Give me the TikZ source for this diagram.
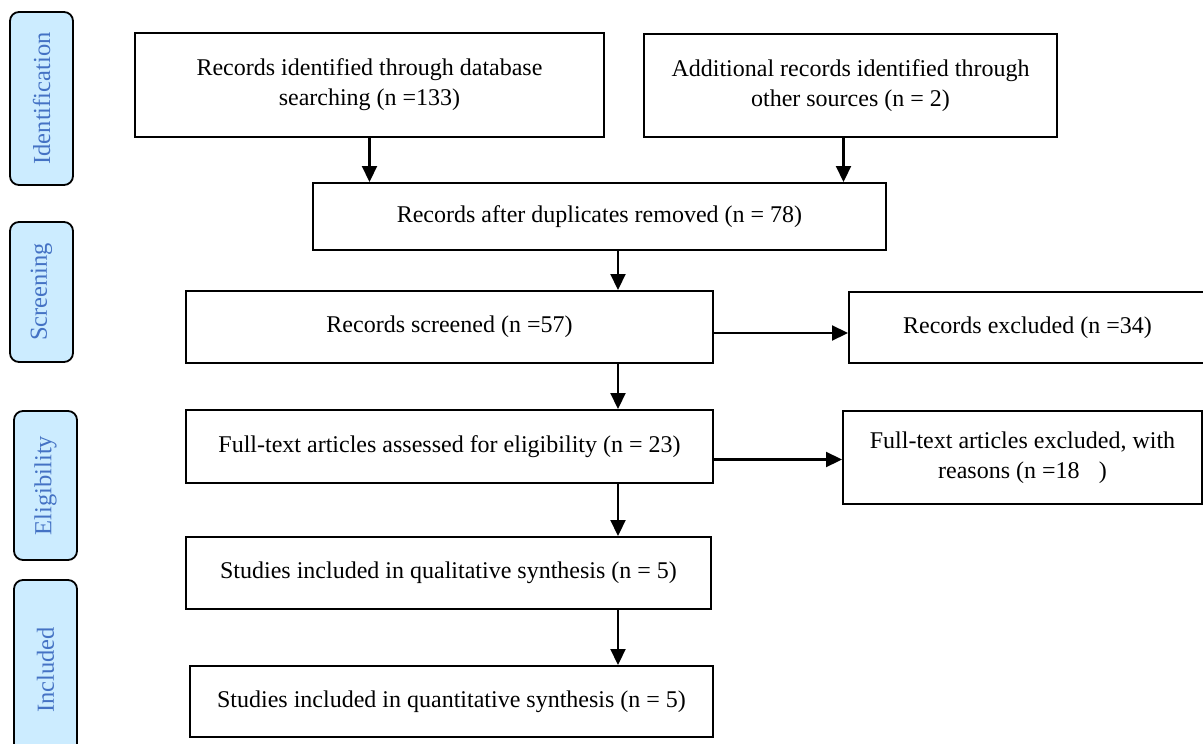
\documentclass[tikz,border=0pt]{standalone}
\usepackage{fontspec}
\setmainfont{Liberation Serif}
\usepackage{tikz}
\usetikzlibrary{arrows.meta,positioning,calc}
\definecolor{tabfill}{RGB}{204,236,255}
\definecolor{tabtext}{RGB}{68,114,196}
\tikzset{
	recbox/.style={rectangle, draw, line width=2pt, align=center, inner sep=0pt, font=\fontsize{24}{30}\selectfont},
	phase/.style={rectangle, rounded corners=9pt, draw, line width=1.8pt, fill=tabfill, text=tabtext, rotate=90, inner sep=0pt, font=\fontsize{24.5}{30}\selectfont},
	flow/.style={line width=2.2pt, -{Triangle[length=16pt,width=15pt]}}
}
\begin{document}
\begin{tikzpicture}[x=1pt, y=-1pt]
		\useasboundingbox (0,0) rectangle (1203,744);
		\node at (41.5,98.5) [phase, minimum width=173pt, minimum height=63pt] (ident) {Identification};
		\node at (41.5,292) [phase, minimum width=140pt, minimum height=63pt] (screen) {Screening};
		\node at (45.5,485.5) [phase, minimum width=149pt, minimum height=63pt] (elig) {Eligibility};
		\node at (45.5,670) [phase, minimum width=180pt, minimum height=63pt] (incl) {Included};
		\node at (369.5,85) [recbox, minimum width=469pt, minimum height=104pt] (db) {Records identified through database\\searching (n =133)};
		\node at (850.5,85.5) [recbox, minimum width=413pt, minimum height=103pt] (other) {Additional records identified through\\other sources (n = 2)};
		\node at (599.5,216.5) [recbox, minimum width=573pt, minimum height=67pt] (dup) {Records after duplicates removed (n = 78)};
		\node at (449.5,327) [recbox, minimum width=527pt, minimum height=72pt] (screened) {Records screened (n =57)};
		\node at (1027.5,327.5) [recbox, minimum width=357pt, minimum height=71pt] (excl) {Records excluded (n =34)};
		\node at (449.5,446.5) [recbox, minimum width=527pt, minimum height=73pt] (assessed) {Full-text articles assessed for eligibility (n = 23)};
		\node at (1022.5,457.5) [recbox, minimum width=359pt, minimum height=93pt] (ftexcl) {Full-text articles excluded, with\\reasons (n =18\hspace{0.8em})};
		\node at (448.5,573) [recbox, minimum width=525pt, minimum height=72pt] (qual) {Studies included in qualitative synthesis (n = 5)};
		\node at (451.5,701.5) [recbox, minimum width=523pt, minimum height=71pt] (quant) {Studies included in quantitative synthesis (n = 5)};
		\coordinate (axis) at (618,0);
		\draw[flow] (db.south) -- (db.south |- dup.north);
		\draw[flow] ([xshift=-7pt]other.south) -- ([xshift=-7pt]other.south |- dup.north);
		\draw[flow] (dup.south -| axis) -- (screened.north -| axis);
		\draw[flow] ([yshift=-6pt]screened.east) -- ([yshift=-6pt]screened.east -| excl.west);
		\draw[flow] (screened.south -| axis) -- (assessed.north -| axis);
		\draw[flow] ([yshift=-13pt]assessed.east) -- ([yshift=-13pt]assessed.east -| ftexcl.west);
		\draw[flow] (assessed.south -| axis) -- (qual.north -| axis);
		\draw[flow] (qual.south -| axis) -- (quant.north -| axis);
\end{tikzpicture}
\end{document}
